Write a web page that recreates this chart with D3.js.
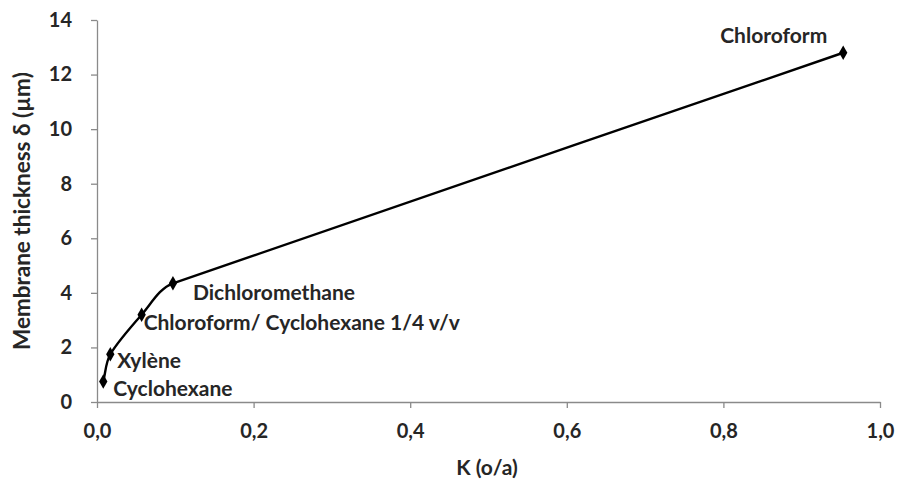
<!DOCTYPE html>
<html><head><meta charset="utf-8">
<script src="https://cdn.jsdelivr.net/npm/d3@7"></script>
<style>body{margin:0;background:#fff}svg{display:block}text{font-family:Lato,sans-serif}</style>
</head><body><div id="c"></div>
<script>
const solvents = ["Cyclohexane","Xylène","Chloroform/ Cyclohexane 1/4 v/v","Dichloromethane","Chloroform"];
const kValues = [0.008, 0.017, 0.057, 0.097, 0.953];
const thickness = [0.75, 1.75, 3.2, 4.35, 12.8];
const xTicks = [0,0.2,0.4,0.6,0.8,1.0];
const yTicks = [0,2,4,6,8,10,12,14];

// Spreadsheet-style smoothing: tangent along neighbour chord, length limited by the shorter adjacent segment
function SmoothCurve(context){this._c=context;}
SmoothCurve.prototype={
  areaStart(){},areaEnd(){},
  lineStart(){this._p=[];},
  point(x,y){this._p.push([x,y]);},
  lineEnd(){
    const p=this._p,n=p.length,c=this._c;if(!n)return;
    const len=(a,b)=>Math.hypot(b[0]-a[0],b[1]-a[1]);
    const dir=[],mag=[];
    for(let i=0;i<n;i++){
      const a=p[Math.max(0,i-1)],b=p[Math.min(n-1,i+1)];
      const l=len(a,b)||1;dir.push([(b[0]-a[0])/l,(b[1]-a[1])/l]);
      const ls=[];if(i>0)ls.push(len(p[i-1],p[i]));if(i<n-1)ls.push(len(p[i],p[i+1]));
      mag.push(Math.min(...ls)*0.35);
    }
    c.moveTo(p[0][0],p[0][1]);
    for(let i=0;i<n-1;i++){
      const L=len(p[i],p[i+1]);
      const m1=Math.min(mag[i],L/3),m2=Math.min(mag[i+1],L/3);
      c.bezierCurveTo(p[i][0]+dir[i][0]*m1,p[i][1]+dir[i][1]*m1,
        p[i+1][0]-dir[i+1][0]*m2,p[i+1][1]-dir[i+1][1]*m2,p[i+1][0],p[i+1][1]);
    }
  }
};
const smooth=ctx=>new SmoothCurve(ctx);

const W=897,H=496;
const svg=d3.select("#c").append("svg").attr("width",W).attr("height",H);
const x=d3.scaleLinear().domain([0,1]).range([97,880]);
const y=d3.scaleLinear().domain([0,14]).range([402,20]);
const fmt=d=>d.toFixed(1).replace(".",",");
const col="#262626";

const xa=svg.append("g").attr("transform",`translate(0,${y(0)})`)
  .call(d3.axisBottom(x).tickValues(xTicks).tickFormat(fmt).tickSize(6).tickSizeOuter(0).tickPadding(16));
const ya=svg.append("g").attr("transform",`translate(${x(0)},0)`)
  .call(d3.axisLeft(y).tickValues(yTicks).tickSize(6).tickSizeOuter(0).tickPadding(19));
[xa,ya].forEach(a=>{a.select(".domain").attr("stroke","#8a8a8a").attr("stroke-width",1.3);
  a.selectAll(".tick line").attr("stroke","#8a8a8a").attr("stroke-width",1.3);
  a.selectAll("text").attr("font-size",20).attr("font-weight",700).attr("fill",col);});

const pts=solvents.map((s,i)=>({s,k:kValues[i],t:thickness[i]}));
svg.append("path").datum(pts).attr("fill","none").attr("stroke","#000").attr("stroke-width",2.4)
  .attr("d",d3.line().x(d=>x(d.k)).y(d=>y(d.t)).curve(smooth));
svg.selectAll(".m").data(pts).enter().append("path")
  .attr("transform",d=>`translate(${x(d.k)},${y(d.t)})`)
  .attr("d",d3.symbol().type(d3.symbolDiamond).size(60)).attr("fill","#000");

const off=[[10,14],[7,14],[2,15],[20,17],[-123,-10]];
svg.selectAll(".lab").data(pts).enter().append("text")
  .attr("x",(d,i)=>x(d.k)+off[i][0]).attr("y",(d,i)=>y(d.t)+off[i][1])
  .attr("font-size",21).attr("font-weight",700).attr("fill",col).text(d=>d.s);

svg.append("text").attr("x",487).attr("y",475).attr("text-anchor","middle")
  .attr("font-size",21).attr("font-weight",700).attr("fill",col).text("K (o/a)");
svg.append("text").attr("transform","translate(30,211) rotate(-90)").attr("text-anchor","middle")
  .attr("font-size",22.5).attr("font-weight",700).attr("fill",col).text("Membrane thickness δ (µm)");
</script></body></html>
